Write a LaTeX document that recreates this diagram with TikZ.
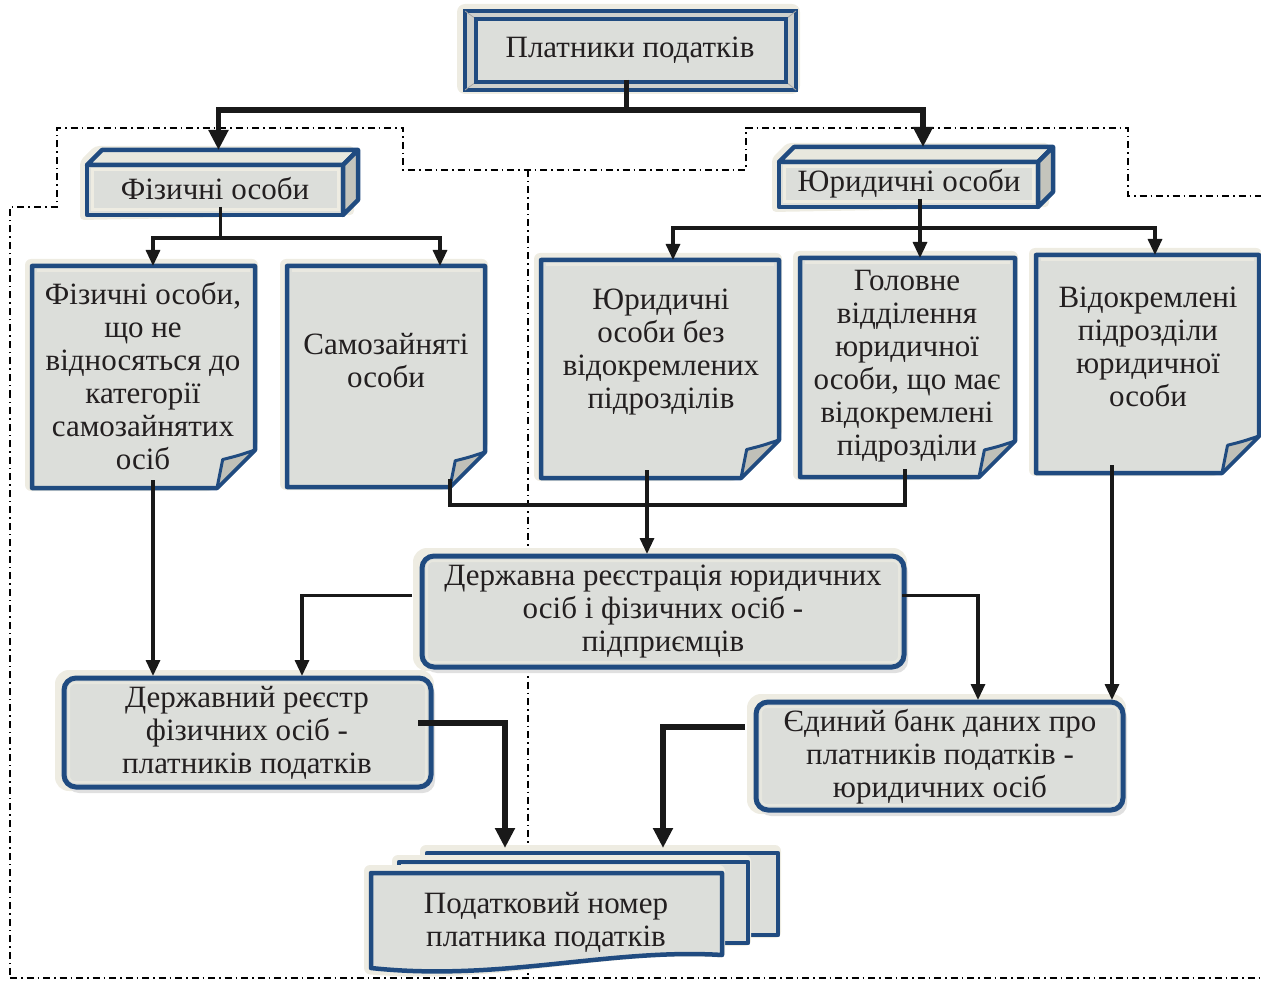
\documentclass[tikz,border=0pt]{standalone}
\usepackage{fontspec}
\setmainfont{Liberation Serif}
\usetikzlibrary{arrows.meta,calc,fit}
\definecolor{bl}{RGB}{32,75,128}
\definecolor{gf}{RGB}{220,222,218}
\definecolor{cream}{RGB}{238,236,226}
\definecolor{flapc}{RGB}{192,192,184}
\definecolor{topc}{RGB}{232,232,222}
\definecolor{sidec}{RGB}{196,196,188}
\definecolor{bevc}{RGB}{206,208,204}
\definecolor{txtc}{RGB}{35,31,32}
\pgfdeclarelayer{back}
\pgfdeclarelayer{mid}
\pgfsetlayers{back,mid,main}

\newcommand\docshape[2]{%
\begin{pgfonlayer}{mid}
\fill[cream,rounded corners=6pt] ($(#1.north west)+(-7,-7)$) -- ($(#1.north east)+(3,-7)$) -- ($(#1.south east)+(3,-#2-4)$) -- ($(#1.south east)+(-#2-4,3)$) -- ($(#1.south west)+(-7,3)$) -- cycle;
\filldraw[fill=gf,draw=bl,line width=4.5pt,line join=round] (#1.north west) -- (#1.north east) -- ($(#1.south east)+(0,-#2)$) -- ($(#1.south east)+(-#2,0)$) -- (#1.south west) -- cycle;
\draw[cream!70!gf,line width=3pt] ($(#1.north west)+(5,5)$) -- ($(#1.north east)+(-5,5)$);
\filldraw[fill=flapc,draw=bl,line width=3pt,line join=round]
 ($(#1.south east)+(-#2,0)$) .. controls ($(#1.south east)+(-0.92*#2,-0.4*#2)$) .. ($(#1.south east)+(-0.85*#2,-0.75*#2)$)
 .. controls ($(#1.south east)+(-0.45*#2,-0.85*#2)$) .. ($(#1.south east)+(0,-#2)$) -- cycle;
\end{pgfonlayer}}

\newcommand\rbox[1]{%
\begin{pgfonlayer}{mid}
\fill[cream,rounded corners=14pt] ($(#1.north west)+(-9,-8)$) rectangle ($(#1.south east)+(3,4)$);
\fill[black!12,rounded corners=12pt] ($(#1.north west)+(3,4)$) rectangle ($(#1.south east)+(4,6)$);
\filldraw[fill=gf,draw=bl,line width=5pt,rounded corners=12pt] (#1.north west) rectangle (#1.south east);
\draw[cream!60!gf,line width=2pt,rounded corners=6pt] ($(#1.north west)+(5,5)$) rectangle ($(#1.south east)+(-5,-5)$);
\end{pgfonlayer}}

\newcommand\prism[2]{%
\begin{pgfonlayer}{mid}
\fill[cream,rounded corners=4pt] ($(#1.north west)+(-7,#2-4)$) -- ($(#1.north west)+(#2-7,-4)$) -- ($(#1.north east)+(-4,-4)$) -- ($(#1.south east)+(-4,0)$) -- ($(#1.south west)+(-7,5)$) -- cycle;
\filldraw[fill=gf,draw=bl,line width=4.5pt,line join=round] ($(#1.north west)+(0,#2)$) rectangle ($(#1.south east)+(-#2,0)$);
\draw[cream,line width=3pt] ($(#1.north west)+(5,#2+5)$) rectangle ($(#1.south east)+(-#2-5,-5)$);
\filldraw[fill=topc,draw=bl,line width=4.5pt,line join=round] ($(#1.north west)+(0,#2)$) -- ($(#1.north west)+(#2,0)$) -- (#1.north east) -- ($(#1.north east)+(-#2,#2)$) -- cycle;
\filldraw[fill=sidec,draw=bl,line width=4.5pt,line join=round] ($(#1.north east)+(-#2,#2)$) -- (#1.north east) -- ($(#1.south east)+(0,-#2)$) -- ($(#1.south east)+(-#2,0)$) -- cycle;
\end{pgfonlayer}}

\begin{document}
\begin{tikzpicture}[x=1pt,y=-1pt,
  bx/.style={inner sep=0pt,outer sep=0pt,draw=none},
  txt/.style={align=center,inner sep=0pt,text=txtc,font=\fontsize{31}{33}\selectfont},
  dd/.style={line width=1.4pt,dash pattern=on 7pt off 4pt on 1.5pt off 4pt},
  thk/.style={line width=5.5pt,draw=black!90},
  med/.style={line width=3.2pt,draw=black!90},
  tipb/.style={-{Triangle[width=19pt,length=20pt]}},
  tips/.style={-{Triangle[width=14pt,length=16pt]}}]
\useasboundingbox (0,0) rectangle (1261,981);

% box placeholders
\node[bx,fit={(465,11)(796,90)}] (top) {};
\node[bx,fit={(87,150)(358,215)}] (fiz) {};
\node[bx,fit={(779,147)(1053,207)}] (yur) {};
\node[bx,fit={(32,266)(255,488)}] (d1) {};
\node[bx,fit={(287,266)(485,487)}] (d2) {};
\node[bx,fit={(541,260)(779,478)}] (d3) {};
\node[bx,fit={(800,258)(1015,477)}] (d4) {};
\node[bx,fit={(1036,255)(1259,473)}] (d5) {};
\node[bx,fit={(422,556)(904,667)}] (reg) {};
\node[bx,fit={(64,678)(431,787)}] (rfo) {};
\node[bx,fit={(756,702)(1123,810)}] (bank) {};
\node[bx,fit={(372,852)(778,970)}] (tax) {};

% dash-dot frame
\begin{pgfonlayer}{back}
\draw[dd] (10,975) -- (10,207) -- (57,207) -- (57,128) -- (403,128) -- (403,170) -- (746,170) -- (746,128) -- (1128,128) -- (1128,196) -- (1261,196);
\draw[dd] (528,170) -- (528,978);
\draw[dd] (10,978) -- (1261,978);
\end{pgfonlayer}

% top box
\begin{pgfonlayer}{mid}
\fill[cream,rounded corners=8pt] ($(top.north west)+(-8,-7)$) rectangle ($(top.south east)+(4,4)$);
\filldraw[fill=bevc,draw=bl,line width=4.5pt] (top.north west) rectangle (top.south east);
\draw[gray!70,line width=0.8pt] (top.north west) -- ($(top.north west)+(11,8)$) (top.north east) -- ($(top.north east)+(-10,8)$)
  (top.south west) -- ($(top.south west)+(11,-8)$) (top.south east) -- ($(top.south east)+(-10,-8)$);
\filldraw[fill=gf,draw=bl,line width=4.5pt] ($(top.north west)+(11,8)$) rectangle ($(top.south east)+(-10,-8)$);
\end{pgfonlayer}

\prism{fiz}{15}
\prism{yur}{15}
\docshape{d1}{38}
\docshape{d2}{35}
\docshape{d3}{38}
\docshape{d4}{36}
\docshape{d5}{37}
\rbox{reg}
\rbox{rfo}
\rbox{bank}

% tax stack
\begin{pgfonlayer}{mid}
\fill[cream,rounded corners=6pt] (420,845) rectangle (781,938);
\filldraw[fill=gf,draw=bl,line width=4.5pt,line join=round] (427,853) rectangle (778,935);
\fill[cream,rounded corners=6pt] (392,855) rectangle (751,946);
\filldraw[fill=gf,draw=bl,line width=4.5pt,line join=round] (399,862) rectangle (748,943);
\fill[cream,rounded corners=6pt] (364,865) -- (725,865) -- (725,958) .. controls (610,950) and (500,985) .. (364,974) -- cycle;
\filldraw[fill=gf,draw=bl,line width=4.5pt,line join=round] (371,873) -- (722,873) -- (722,955) .. controls (610,948) and (500,982) .. (371,968) -- cycle;
\end{pgfonlayer}

% texts
\node[txt] (ttop) at (630,50) {Платники податків};
\node[txt] (tfiz) at (215,189) {Фізичні особи};
\node[txt] (tyur) at (909,184) {Юридичні особи};
\node[txt] (td1) at (143,376) {Фізичні особи,\\що не\\відносяться до\\категорії\\самозайнятих\\осіб};
\node[txt] (td2) at (386,361) {Самозайняті\\особи};
\node[txt] (td3) at (661,352) {Юридичні\\особи без\\відокремлених\\підрозділів};
\node[txt] (td4) at (907,366) {Головне\\відділення\\юридичної\\особи, що має\\відокремлені\\підрозділи};
\node[txt] (td5) at (1148,347) {Відокремлені\\підрозділи\\юридичної\\особи};
\node[txt] (treg) at (663,612) {Державна реєстрація юридичних\\осіб і фізичних осіб -\\підприємців};
\node[txt] (trfo) at (247,733) {Державний реєстр\\фізичних осіб -\\платників податків};
\node[txt] (tbank) at (940,757) {Єдиний банк даних про\\платників податків -\\юридичних осіб};
\node[txt] (ttax) at (546,922) {Податковий номер\\платника податків};

% connectors
\coordinate (j0) at ($(top.south)+(-4,20)$);
\draw[thk] ($(top.south)+(-4,-10)$) -- (j0);
\draw[thk,tipb] (j0) -| ($(fiz.north)+(-4,0)$);
\draw[thk,tipb] (j0) -| ($(yur.north)+(7,0)$);

\coordinate (j1) at ($(fiz.south)+(-2,23)$);
\draw[med] ($(fiz.south)+(-2,-8)$) -- (j1);
\draw[med,tips] (j1) -| ($(d1.north)+(9.5,0)$);
\draw[med,tips] (j1) -| ($(d2.north)+(54,0)$);

\coordinate (j2) at ($(yur.south)+(4,21)$);
\draw[med] ($(yur.south)+(4,-8)$) -- (j2);
\draw[med,tips] (j2) -| ($(d3.north)+(13,0)$);
\draw[med,tips] (j2) -- ($(d4.north)+(12.5,0)$);
\draw[med,tips] (j2) -| ($(d5.north)+(7.5,0)$);

\draw[med,tips] ($(d1.south)+(9.5,-8)$) -- ($(rfo.north)+(-94.5,-2)$);
\draw[med] ($(d2.south east)+(-35,-8)$) |- ($(d4.south)+(-2.5,28)$) -- ($(d4.south)+(-2.5,-8)$);
\draw[med,tips] ($(d3.south)+(-13,-8)$) -- ($(reg.north)+(-16,-2)$);
\draw[med,tips] ($(reg.west)+(-10,-16)$) -| ($(rfo.north)+(54.5,-2)$);
\draw[med,tips] ($(reg.east)+(-2,-16)$) -| ($(bank.north)+(38.5,-2)$);
\draw[med,tips] ($(d5.south)+(-35.5,-8)$) -- ($(bank.north)+(172.5,-2)$);
\draw[thk,tipb] ($(rfo.east)+(-13,-9.5)$) -| ($(tax.north west)+(133,-4)$);
\draw[thk,tipb] ($(bank.west)+(-11,-29)$) -| ($(tax.north west)+(291,-4)$);
\end{tikzpicture}
\end{document}
